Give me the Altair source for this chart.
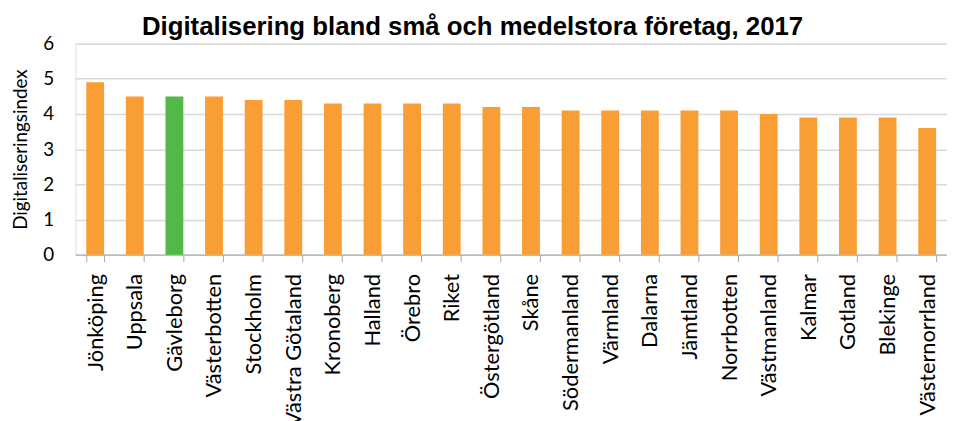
import altair as alt
import pandas as pd

regions = ["Jönköping", "Uppsala", "Gävleborg", "Västerbotten", "Stockholm",
           "Västra Götaland", "Kronoberg", "Halland", "Örebro", "Riket",
           "Östergötland", "Skåne", "Södermanland", "Värmland", "Dalarna",
           "Jämtland", "Norrbotten", "Västmanland", "Kalmar", "Gotland",
           "Blekinge", "Västernorrland"]
values = [4.9, 4.5, 4.5, 4.5, 4.4, 4.4, 4.3, 4.3, 4.3, 4.3,
          4.2, 4.2, 4.1, 4.1, 4.1, 4.1, 4.1, 4.0, 3.9, 3.9, 3.9, 3.6]
highlight = "Gävleborg"

df = pd.DataFrame({"region": regions, "value": values})
df["grp"] = ["hl" if r == highlight else "other" for r in regions]

LABEL_FONT = "Lato"

chart = alt.Chart(df).mark_bar().encode(
    x=alt.X("region:N", sort=regions, title=None,
            scale=alt.Scale(paddingInner=0.55, paddingOuter=0.275),
            axis=alt.Axis(labelAngle=-90, labelAlign="right", labelBaseline="middle",
                          labelFont=LABEL_FONT, labelFontSize=22, labelColor="#000000",
                          labelPadding=12, tickBand="extent", tickSize=7,
                          tickColor="#a6a6a6", domainColor="#a6a6a6", labelOverlap=False,
                          labelLimit=300, grid=False)),
    y=alt.Y("value:Q", title="Digitaliseringsindex",
            scale=alt.Scale(domain=[0, 6], nice=False),
            axis=alt.Axis(values=[0, 1, 2, 3, 4, 5, 6], format="d",
                          labelFont=LABEL_FONT, labelFontSize=19, labelColor="#000000",
                          labelPadding=22, ticks=False, domain=False,
                          gridColor="#d9d9d9", gridWidth=1.5,
                          titleFont=LABEL_FONT, titleFontSize=19, titleFontWeight="normal",
                          titleColor="#000000", titlePadding=12)),
    color=alt.Color("grp:N", scale=alt.Scale(domain=["hl", "other"],
                                             range=["#52b848", "#f99d35"]), legend=None),
).properties(
    width=880, height=213,
    title=alt.TitleParams("Digitalisering bland små och medelstora företag, 2017",
                          font="Liberation Sans", fontSize=26, fontWeight="bold",
                          color="#000000", anchor="middle", frame="group", dx=-39,
                          dy=11, offset=6),
    autosize=alt.AutoSizeParams(type="none"),
    padding={"left": 68, "top": 34, "right": 0, "bottom": 170},
).configure_view(stroke=None).configure(background="white")

chart.save("out.html", embed_options={"renderer": "svg", "actions": False})
